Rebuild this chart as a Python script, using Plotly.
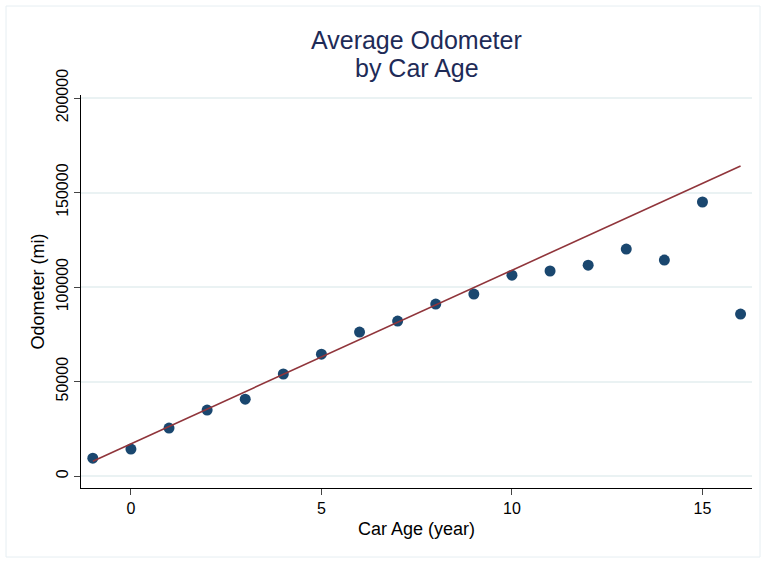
import plotly.graph_objects as go

car_age = [-1, 0, 1, 2, 3, 4, 5, 6, 7, 8, 9, 10, 11, 12, 13, 14, 15, 16]
odometer = [9500, 14300, 25400, 34900, 40700, 54000, 64500, 76200, 82000, 91000,
            96300, 106300, 108500, 111600, 120100, 114300, 145000, 85700]
fit_x = [-1, 16]
fit_y = [7900, 164000]
y_ticks = [0, 50000, 100000, 150000, 200000]
x_ticks = [0, 5, 10, 15]
title_lines = ["Average Odometer", "by Car Age"]

fig = go.Figure()
fig.add_trace(go.Scatter(x=car_age, y=odometer, mode="markers",
                         marker=dict(color="#1a476f", size=11), showlegend=False))
fig.add_trace(go.Scatter(x=fit_x, y=fit_y, mode="lines",
                         line=dict(color="#90353b", width=1.6), showlegend=False))

font = "Liberation Sans, Arial, sans-serif"
H = 393.0
def py(p):
    return 1 + (95 - p) / H

annotations = [
    dict(text=title_lines[0], xref="paper", yref="paper", x=0.5, y=py(40),
         xanchor="center", yanchor="middle", showarrow=False,
         font=dict(family=font, size=25, color="#1e2b57")),
    dict(text=title_lines[1], xref="paper", yref="paper", x=0.5, y=py(68),
         xanchor="center", yanchor="middle", showarrow=False,
         font=dict(family=font, size=25, color="#1e2b57")),
]

fig.update_layout(
    width=766, height=563,
    margin=dict(l=81, r=14, t=95, b=75),
    paper_bgcolor="white", plot_bgcolor="white",
    font=dict(family=font, color="black", size=16),
    annotations=annotations,
    xaxis=dict(range=[-1.31, 16.3], tickvals=x_ticks, ticks="outside", ticklen=6,
               showline=True, linecolor="black", linewidth=1, showgrid=False,
               zeroline=False, tickfont=dict(size=16),
               title=dict(text="Car Age (year)", font=dict(size=18), standoff=6)),
    yaxis=dict(range=[-6300, 201600], tickvals=y_ticks,
               ticktext=[str(v) for v in y_ticks], ticks="outside", ticklen=6,
               showline=True, linecolor="black", linewidth=1, showgrid=True,
               gridcolor="#eaf2f3", gridwidth=1.5, zeroline=False, tickangle=-90,
               tickfont=dict(size=16),
               title=dict(text="Odometer (mi)", font=dict(size=18), standoff=4)),
    shapes=[dict(type="rect", xref="paper", yref="paper",
                 x0=-75/671, x1=1 + 8/671, y0=-69/393, y1=1 + 89/393,
                 line=dict(color="#e6eef2", width=1), fillcolor="rgba(0,0,0,0)",
                 layer="below")],
)
fig.write_html("out.html")
